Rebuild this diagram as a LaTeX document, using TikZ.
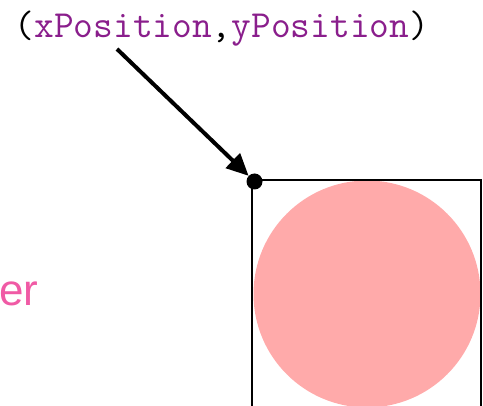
\documentclass[tikz,border=0pt]{standalone}
\usepackage{fontspec}
\setmainfont{Liberation Sans}
\usetikzlibrary{arrows.meta}
\definecolor{codepurple}{RGB}{138,30,140}
\definecolor{circpink}{RGB}{255,170,170}
\definecolor{textpink}{RGB}{240,90,165}
\tikzset{
  codelabel/.style={inner sep=0pt, font=\ttfamily\fontsize{38.3}{42}\selectfont},
  dotmark/.style={circle, fill=black, inner sep=0pt, minimum size=16pt},
  pointer/.style={line width=4pt, -{Triangle[length=22pt,width=20pt]}},
  frame/.style={draw=black, line width=2pt},
}
\begin{document}
\begin{tikzpicture}[x=1pt,y=-1pt]
\useasboundingbox (0,0) rectangle (483,406);
\clip (0,0) rectangle (483,406);
\fill[white] (0,0) rectangle (483,406);
% circle
\fill[circpink] (367,294) circle (113.5);
% frame
\draw[frame] (252,440) -- (252,180) -- (481,180) -- (481,440);
% label
\node[codelabel, anchor=base west] (lbl) at (14.5,37.5) {(\textcolor{codepurple}{xPosition},\textcolor{codepurple}{yPosition})};
\node[inner sep=0pt, anchor=base east, text=textpink, font=\fontsize{44}{50}\selectfont] (er) at (38.5,306) {er};
\node[dotmark] (corner) at (254.5,181.5) {};
\coordinate (start) at (117,49);
\draw[pointer] (start) -- (corner);
\end{tikzpicture}
\end{document}
